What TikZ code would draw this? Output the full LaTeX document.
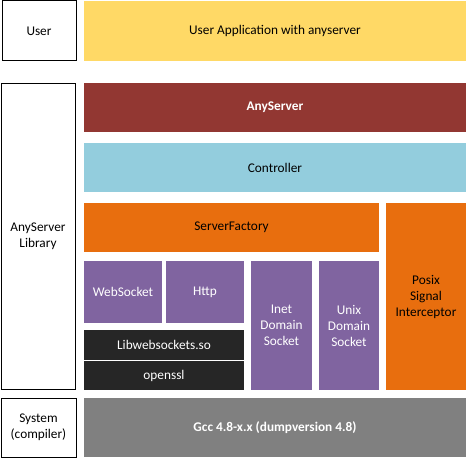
\documentclass[tikz,border=0pt]{standalone}
\usepackage{fontspec}
\setmainfont{Carlito}
\definecolor{cyellow}{RGB}{255,217,102}
\definecolor{cred}{RGB}{146,55,50}
\definecolor{cblue}{RGB}{147,205,221}
\definecolor{corange}{RGB}{232,110,14}
\definecolor{cpurple}{RGB}{128,100,160}
\definecolor{cdark}{RGB}{38,38,38}
\definecolor{cgray}{RGB}{128,128,128}
\begin{document}
\begin{tikzpicture}[x=1pt,y=-1pt,
  every node/.style={inner sep=0pt,outer sep=0pt,align=center,font=\fontsize{13.3}{16}\selectfont},
  layer/.style={draw=none},
  side/.style={draw=black,line width=1pt,fill=white,text=black}]
\useasboundingbox[fill=white] (0,0) rectangle (468,460);
\node[side,minimum width=74pt,minimum height=60pt] (user) at (39,31) {User};
\node[side,minimum width=74pt,minimum height=306pt] (lib) at (38,236) {AnyServer\\Library};
\node[side,minimum width=75pt,minimum height=59pt] (sys) at (38.5,427.5) {System\\(compiler)};
\node[layer,fill=cyellow,minimum width=382pt,minimum height=60pt] (app) at (275,31) {User Application with anyserver};
\node[layer,fill=cred,text=white,minimum width=382pt,minimum height=49pt] (any) at (275,107.5) {\bfseries AnyServer};
\node[layer,fill=cblue,minimum width=382pt,minimum height=49pt] (ctrl) at (275,167.5) {Controller};
\node[layer,fill=corange,minimum width=295pt,minimum height=49pt] (sf) at (231.5,227.5) {ServerFactory};
\node[layer,fill=corange,minimum width=80pt,minimum height=187pt] (posix) at (426,296.5) {Posix\\Signal\\Interceptor};
\node[layer,fill=cpurple,text=white,minimum width=78pt,minimum height=62pt] (ws) at (123,292) {WebSocket};
\node[layer,fill=cpurple,text=white,minimum width=78pt,minimum height=62pt] (http) at (205,292) {Http};
\node[layer,fill=cdark,text=white,minimum width=160pt,minimum height=30pt] (lws) at (164,345) {Libwebsockets.so};
\node[layer,fill=cdark,text=white,minimum width=160pt,minimum height=29pt] (ssl) at (164,375.5) {openssl};
\node[layer,fill=cpurple,text=white,minimum width=61pt,minimum height=129pt] (inet) at (281.5,325.5) {Inet\\Domain\\Socket};
\node[layer,fill=cpurple,text=white,minimum width=60pt,minimum height=129pt] (unix) at (349,325.5) {Unix\\Domain\\Socket};
\node[layer,fill=cgray,text=white,minimum width=382pt,minimum height=59pt] (gcc) at (275,427.5) {\bfseries Gcc 4.8-x.x (dumpversion 4.8)};
\end{tikzpicture}
\end{document}
